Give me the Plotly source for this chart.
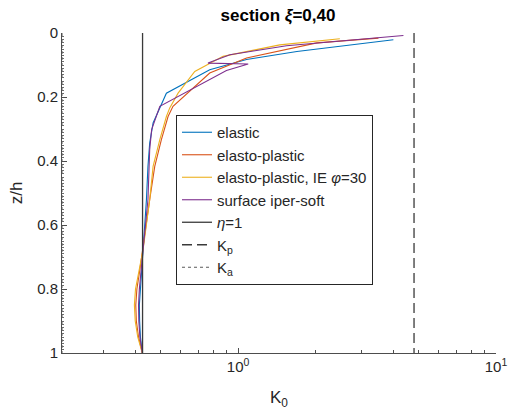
import plotly.graph_objects as go
import numpy as np

# ---- data ----
elastic_K = [4.00, 1.69, 1.078, 0.776, 0.527, 0.475, 0.468, 0.454, 0.447, 0.441, 0.428, 0.420, 0.416, 0.414, 0.415, 0.418, 0.425]
elastic_z = [0.021, 0.058, 0.083, 0.115, 0.188, 0.266, 0.281, 0.344, 0.417, 0.521, 0.677, 0.75, 0.80, 0.85, 0.90, 0.95, 1.0]

plastic_K = [3.50, 2.02, 1.078, 0.776, 0.559, 0.535, 0.504, 0.475, 0.454, 0.428, 0.414, 0.405, 0.401, 0.403, 0.411, 0.425]
plastic_z = [0.016, 0.031, 0.078, 0.125, 0.229, 0.261, 0.333, 0.417, 0.521, 0.677, 0.75, 0.80, 0.85, 0.90, 0.95, 1.0]

plasticIE_K = [2.48, 1.45, 0.874, 0.679, 0.585, 0.543, 0.527, 0.497, 0.468, 0.454, 0.428, 0.410, 0.400, 0.396, 0.399, 0.408, 0.425]
plasticIE_z = [0.018, 0.037, 0.073, 0.120, 0.188, 0.234, 0.261, 0.333, 0.417, 0.521, 0.677, 0.75, 0.80, 0.85, 0.90, 0.95, 1.0]

soft_K = [4.375, 2.27, 1.54, 0.929, 0.764, 1.094, 0.901, 0.497, 0.462, 0.454, 0.447, 0.428, 0.419, 0.414, 0.411, 0.412, 0.416, 0.425]
soft_z = [0.008, 0.029, 0.040, 0.068, 0.094, 0.097, 0.117, 0.229, 0.302, 0.365, 0.521, 0.677, 0.75, 0.80, 0.85, 0.90, 0.95, 1.0]

K_eta1 = 0.426
Kp = 4.81
Ka = 0.2075
z_span = [0, 1]

names = ["elastic", "elasto-plastic", "elasto-plastic, IE <i>φ</i>=30", "surface iper-soft"]
colors = ["#0072BD", "#D95319", "#EDB120", "#7E2F8E"]
xtick_vals = [1, 10]
xtick_text = ["10<sup>0</sup>", "10<sup>1</sup>"]
ytick_vals = [0, 0.2, 0.4, 0.6, 0.8, 1]
ytick_text = ["0", "0.2", "0.4", "0.6", "0.8", "1"]

fig = go.Figure()
for K, z, n, c in zip([elastic_K, plastic_K, plasticIE_K, soft_K],
                      [elastic_z, plastic_z, plasticIE_z, soft_z], names, colors):
    fig.add_trace(go.Scatter(x=K, y=z, mode="lines", name=n,
                             line=dict(color=c, width=1.1)))

axcol = "#262626"
fig.add_trace(go.Scatter(x=[K_eta1, K_eta1], y=z_span, mode="lines", name="<i>η</i>=1",
                         line=dict(color="#3a3a3a", width=1.3)))
fig.add_trace(go.Scatter(x=[Kp, Kp], y=z_span, mode="lines", name="K<sub>p</sub>",
                         line=dict(color="#3a3a3a", width=1.3, dash="10px,5px")))
fig.add_trace(go.Scatter(x=[Ka, Ka], y=z_span, mode="lines", name="K<sub>a</sub>",
                         line=dict(color="#5a5a5a", width=1.0, dash="dot")))

minor_x = [v * d for d in [0.1, 1] for v in range(2, 10) if v * d >= Ka]

fig.update_layout(
    width=508, height=418,
    margin=dict(l=62, r=12, t=33, b=65, autoexpand=False),
    plot_bgcolor="white", paper_bgcolor="white",
    font=dict(family="Liberation Sans, Arial, sans-serif", size=15, color=axcol),
    title=dict(text="<b>section <i>ξ</i>=0,40</b>", x=278 / 508, xanchor="center",
               y=1 - 15 / 418, yanchor="middle", font=dict(size=17, color="black")),
    showlegend=True,
    legend=dict(x=(176 - 62) / 434, y=1 - (115 - 33) / 320, xanchor="left", yanchor="top",
                bgcolor="white", bordercolor=axcol, borderwidth=1,
                font=dict(size=15, color=axcol), tracegroupgap=0),
    xaxis=dict(type="log", range=[np.log10(Ka), 1], showgrid=False, zeroline=False,
               automargin=False,
               showline=True, linecolor="#4d4d4d", linewidth=1, mirror=False,
               ticks="inside", ticklen=5, tickcolor="#4d4d4d",
               tickvals=xtick_vals, ticktext=xtick_text, tickfont=dict(size=15),
               minor=dict(ticks="inside", ticklen=3, tickcolor="#4d4d4d", tickvals=minor_x),
               title=dict(text="K<sub>0</sub>", font=dict(size=17), standoff=17)),
    yaxis=dict(range=[1, 0], showgrid=False, zeroline=False,
               automargin=False,
               showline=True, linecolor="#4d4d4d", linewidth=1, mirror=False,
               ticks="inside", ticklen=5, tickcolor="#4d4d4d",
               tickvals=ytick_vals, ticktext=ytick_text, tickfont=dict(size=15),
               minor=dict(ticks="inside", ticklen=2, tickcolor="#6d6d6d", dtick=0.01, tick0=0),
               title=dict(text="z/h", font=dict(size=17), standoff=10)),
)

fig.write_html("out.html", config={"displayModeBar": False},
               post_script="document.body.style.margin='0';document.body.style.overflow='hidden';")
